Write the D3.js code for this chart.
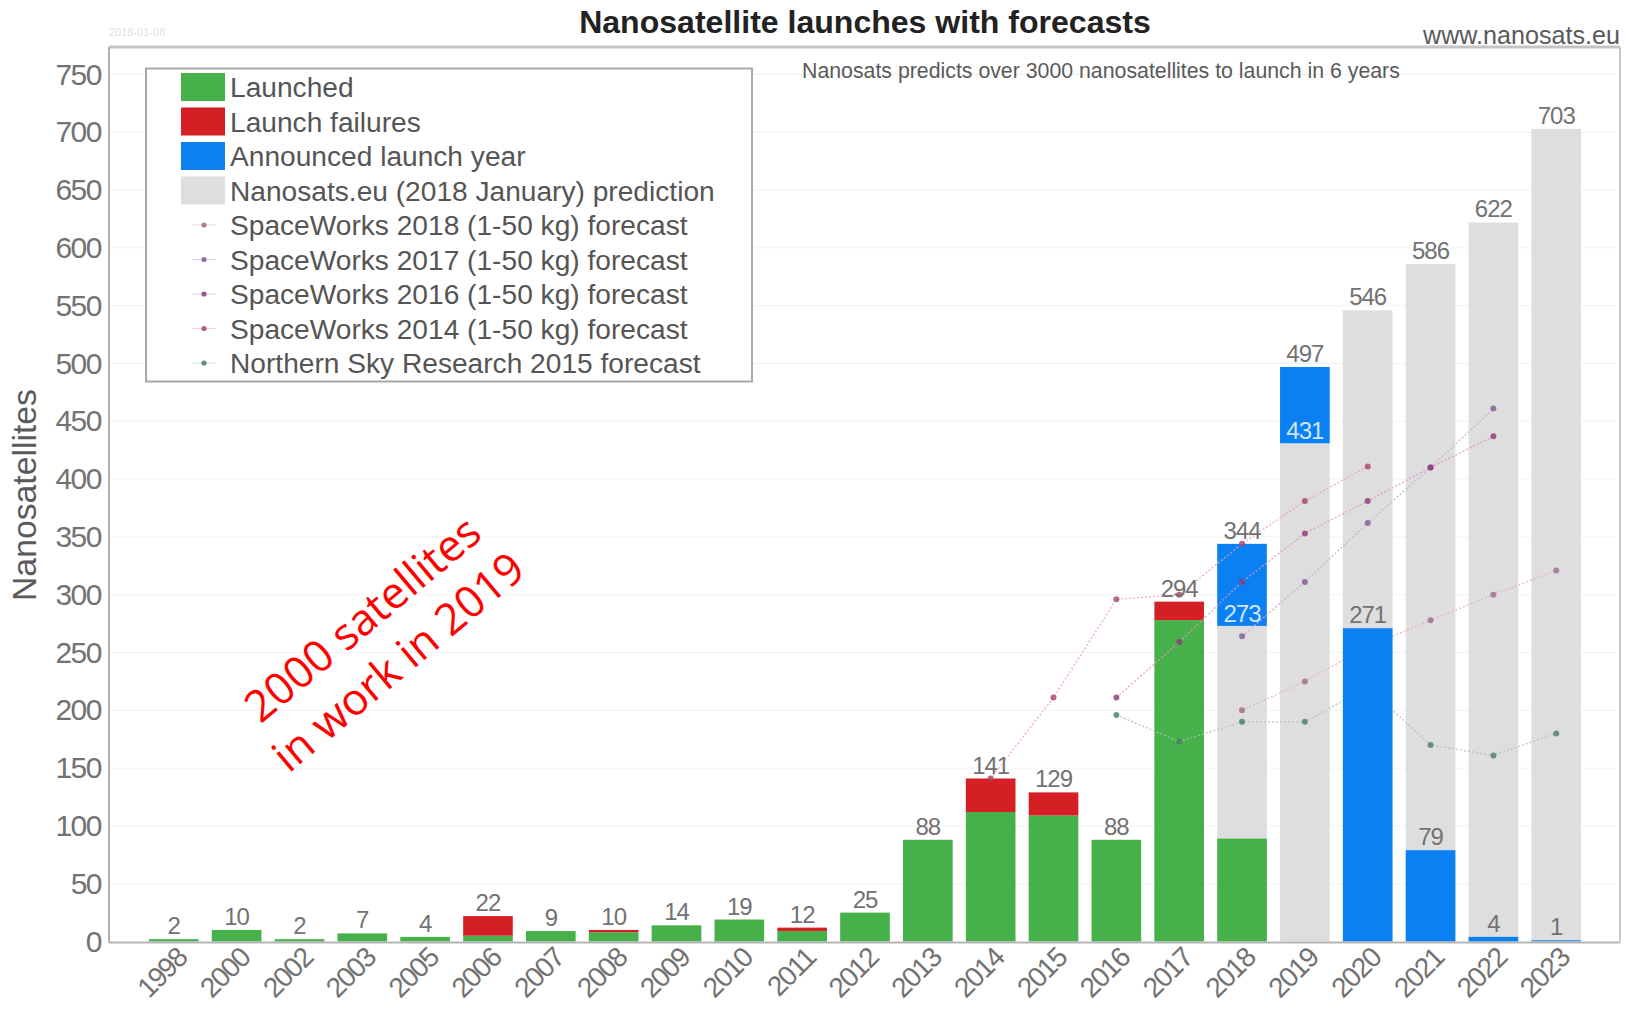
<!DOCTYPE html>
<html><head><meta charset="utf-8">
<script src="https://cdn.jsdelivr.net/npm/d3@7"></script>
<style>body{margin:0;background:#fff} svg{display:block}</style>
</head><body><svg id="c" width="1626" height="1027"></svg>
<script>
const categories = ["1998","2000","2002","2003","2005","2006","2007","2008","2009","2010","2011","2012","2013","2014","2015","2016","2017","2018","2019","2020","2021","2022","2023"];
const launched   = [2,10,2,7,4,5,9,8,14,19,9,25,88,112,109,88,278,89,0,0,0,0,0];
const failures   = [0,0,0,0,0,17,0,2,0,0,3,0,0,29,20,0,16,0,0,0,0,0,0];
const prediction = [null,null,null,null,null,null,null,null,null,null,null,null,null,null,null,null,null,273,431,546,586,622,703];
const announced  = [null,null,null,null,null,null,null,null,null,null,null,null,null,null,null,null,null,344,497,271,79,4,1];
const yTicks = [0,50,100,150,200,250,300,350,400,450,500,550,600,650,700,750];

const sw2018  = [["2018",200],["2019",225],["2020",255],["2021",278],["2022",300],["2023",321]];
const sw2017  = [["2018",264],["2019",311],["2020",362],["2021",410],["2022",461]];
const sw2016  = [["2016",211],["2017",259],["2018",311],["2019",353],["2020",381],["2021",410],["2022",437]];
const sw2014  = [["2014",141],["2015",211],["2016",296],["2017",300],["2018",344],["2019",381],["2020",411]];
const nsr2015 = [["2016",196],["2017",173],["2018",190],["2019",190],["2020",220],["2021",170],["2022",161],["2023",180]];

const legendBars = ["Launched","Launch failures","Announced launch year","Nanosats.eu (2018 January) prediction"];
const legendSeries = ["SpaceWorks 2018 (1-50 kg) forecast","SpaceWorks 2017 (1-50 kg) forecast","SpaceWorks 2016 (1-50 kg) forecast","SpaceWorks 2014 (1-50 kg) forecast","Northern Sky Research 2015 forecast"];

const C = {green:"#46b04a", red:"#d42024", blue:"#0b80f2", gray:"#dedede", text:"#727272"};
const seriesList = [
  {data:sw2018, line:"#eeaac8", dot:"#9a6a8a"},
  {data:sw2017, line:"#d0a6e0", dot:"#7e5a90"},
  {data:sw2016, line:"#e894c4", dot:"#8a3a7a"},
  {data:sw2014, line:"#f4a0b0", dot:"#a84464"},
  {data:nsr2015, line:"#a4c6b6", dot:"#4a7a6a"}
];

const svg = d3.select("#c");
const FONT = "'Liberation Sans', Arial, sans-serif";

function fit(sel, w){
  const t = sel.node().getComputedTextLength();
  const fs = parseFloat(sel.attr("font-size"));
  sel.attr("font-size", fs * w / t);
  return fs * w / t;
}

const pLeft = 109, pRight = 1620, pTop = 47, pBottom = 941.5;
const x = d3.scaleBand().domain(categories).range([110, 1620]).paddingInner(0.21).paddingOuter(0.62);
const y = d3.scaleLinear().domain([0, 750]).range([941.5, 74.5]);
const bw = x.bandwidth();

// gridlines
svg.append("g").selectAll("line").data(yTicks.slice(1)).join("line")
  .attr("x1", pLeft).attr("x2", pRight).attr("y1", d=>y(d)).attr("y2", d=>y(d))
  .attr("stroke", "#f2f2f2").attr("stroke-width", 1);

// frame
svg.append("line").attr("x1", pLeft).attr("x2", pRight).attr("y1", pTop).attr("y2", pTop).attr("stroke", "#c4c4c4").attr("stroke-width", 3);
svg.append("line").attr("x1", pRight).attr("x2", pRight).attr("y1", pTop).attr("y2", pBottom).attr("stroke", "#c8c8c8").attr("stroke-width", 2);
svg.append("line").attr("x1", pLeft).attr("x2", pLeft).attr("y1", pTop).attr("y2", pBottom+1).attr("stroke", "#b0b0b0").attr("stroke-width", 2);

// y axis ticks
const yAxis = d3.axisLeft(y).tickValues(yTicks).tickSize(0).tickPadding(0);
const yg = svg.append("g").attr("transform", `translate(101,0)`).call(yAxis);
yg.select(".domain").remove();
yg.selectAll("text").attr("font-family", FONT).attr("font-size", 30).attr("fill", C.text).attr("letter-spacing", -1.5);

// x axis labels
const xAxis = d3.axisBottom(x).tickSize(0).tickPadding(0);
const xg = svg.append("g").attr("transform", `translate(0,${pBottom})`).call(xAxis);
xg.select(".domain").remove();
xg.selectAll("text").attr("font-family", FONT).attr("font-size", 28).attr("fill", C.text).attr("letter-spacing", -1.5)
  .attr("text-anchor", "end").attr("dy", 0).attr("y", 0)
  .attr("transform", "translate(15,18) rotate(-45)");

const idx = categories.map((c,i)=>i);

// prediction bars (gray)
svg.append("g").selectAll("rect").data(idx.filter(i=>prediction[i]!=null)).join("rect")
  .attr("x", i=>x(categories[i])).attr("width", bw)
  .attr("y", i=>y(prediction[i])).attr("height", i=>y(0)-y(prediction[i]))
  .attr("fill", C.gray);

// launched (green)
svg.append("g").selectAll("rect").data(idx.filter(i=>launched[i]>0)).join("rect")
  .attr("x", i=>x(categories[i])).attr("width", bw)
  .attr("y", i=>y(launched[i])).attr("height", i=>y(0)-y(launched[i]))
  .attr("fill", C.green);

// failures (red) stacked
svg.append("g").selectAll("rect").data(idx.filter(i=>failures[i]>0)).join("rect")
  .attr("x", i=>x(categories[i])).attr("width", bw)
  .attr("y", i=>y(launched[i]+failures[i])).attr("height", i=>y(launched[i])-y(launched[i]+failures[i]))
  .attr("fill", C.red);

// announced (blue): segments above the prediction drawn under the forecast lines,
// bars from zero drawn over them (as in the reference)
const blueBase = i => announced[i] > prediction[i] ? prediction[i] : 0;
const blueIdx = idx.filter(i=>announced[i]!=null);
function drawBlue(list){
  svg.append("g").selectAll("rect").data(list).join("rect")
    .attr("x", i=>x(categories[i])).attr("width", bw)
    .attr("y", i=>y(announced[i])).attr("height", i=>y(blueBase(i))-y(announced[i]))
    .attr("fill", C.blue);
}
drawBlue(blueIdx.filter(i=>blueBase(i)>0));

// forecast lines
const lineGen = d3.line().x(d=>x(d[0])+bw/2).y(d=>y(d[1]));
const fg = svg.append("g");
seriesList.forEach(s=>{
  fg.append("path").attr("d", lineGen(s.data)).attr("fill","none").attr("stroke", s.line)
    .attr("stroke-width", 1.3).attr("stroke-dasharray", "2,2").attr("opacity", 0.9);
  fg.selectAll(null).data(s.data).join("circle")
    .attr("cx", d=>x(d[0])+bw/2).attr("cy", d=>y(d[1])).attr("r", 3)
    .attr("fill", s.dot).attr("opacity", 0.8);
});

drawBlue(blueIdx.filter(i=>blueBase(i)===0));

// bottom axis line
svg.append("line").attr("x1", pLeft).attr("x2", pRight).attr("y1", pBottom+1).attr("y2", pBottom+1).attr("stroke", "#b4b4b4").attr("stroke-width", 2);

// value labels
const lab = svg.append("g").attr("font-family", FONT).attr("font-size", 24).attr("text-anchor","middle").attr("letter-spacing", -1);
idx.forEach(i=>{
  const cx = x(categories[i]) + bw/2;
  if (prediction[i] == null) {
    const t = launched[i] + failures[i];
    lab.append("text").attr("x", cx).attr("y", y(t)-5).attr("fill", C.text).text(t);
  } else {
    const topV = Math.max(prediction[i], announced[i]);
    lab.append("text").attr("x", cx).attr("y", y(topV)-5).attr("fill", C.text).text(topV);
    if (announced[i] > prediction[i]) {
      lab.append("text").attr("x", cx).attr("y", y(prediction[i])-4).attr("fill", "#cfe6ff").text(prediction[i]);
    } else {
      lab.append("text").attr("x", cx).attr("y", y(announced[i])-5).attr("fill", C.text).text(announced[i]);
    }
  }
});

// legend
const lg = svg.append("g");
lg.append("rect").attr("x", 146).attr("y", 68.5).attr("width", 606).attr("height", 313)
  .attr("fill", "#fff").attr("stroke", "#a8a8a8").attr("stroke-width", 2);
const rowY = d => 87 + d*34.5;
const barCols = [C.green, C.red, C.blue, C.gray];
legendBars.forEach((t,k)=>{
  lg.append("rect").attr("x", 181).attr("y", rowY(k)-14).attr("width", 44).attr("height", 28).attr("fill", barCols[k]);
});
legendSeries.forEach((t,k)=>{
  const yy = rowY(k+4);
  lg.append("line").attr("x1", 192).attr("x2", 216).attr("y1", yy).attr("y2", yy).attr("stroke", seriesList[k].line).attr("stroke-width",1).attr("opacity",0.5);
  lg.append("circle").attr("cx", 204).attr("cy", yy).attr("r", 2.6).attr("fill", seriesList[k].dot).attr("opacity",0.85);
});
const legTexts = legendBars.concat(legendSeries);
const lts = legTexts.map((t,k)=> lg.append("text").attr("x", 230).attr("y", rowY(k)).attr("dy","0.36em")
  .attr("font-family", FONT).attr("font-size", 24).attr("fill", "#555").text(t));
const lfs = fit(lts[3], 485);
lts.forEach(s=>s.attr("font-size", lfs));

// title
const title = svg.append("text").attr("x", 865).attr("y", 33).attr("text-anchor","middle")
  .attr("font-family", FONT).attr("font-weight","bold").attr("font-size", 28).attr("fill","#222")
  .text("Nanosatellite launches with forecasts");
fit(title, 572);

const site = svg.append("text").attr("x", 1620).attr("y", 44).attr("text-anchor","end")
  .attr("font-family", FONT).attr("font-size", 20).attr("fill","#5a5a5a").text("www.nanosats.eu");
fit(site, 197);

const sub = svg.append("text").attr("x", 802).attr("y", 78).attr("font-family", FONT).attr("font-size", 16).attr("fill","#5a5a5a")
  .text("Nanosats predicts over 3000 nanosatellites to launch in 6 years");
fit(sub, 598);

svg.append("text").attr("x", 109).attr("y", 36).attr("font-family", FONT).attr("font-size", 11).attr("fill","#e2e2e2").text("2018-01-08");

const yl = svg.append("text").attr("transform","translate(36,495) rotate(-90)").attr("text-anchor","middle")
  .attr("font-family", FONT).attr("font-size", 26).attr("fill","#5a5a5a").text("Nanosatellites");
fit(yl, 212);

// annotation
const ann = svg.append("g").attr("transform","translate(380,640) rotate(-40)");
const a1 = ann.append("text").attr("x",0).attr("y",-12).attr("text-anchor","middle").attr("font-family", "'Open Sans', 'Liberation Sans', sans-serif")
  .attr("font-size", 36).attr("fill","#ff0000").text("2000 satellites");
const a2 = ann.append("text").attr("x",0).attr("y",44).attr("text-anchor","middle").attr("font-family", "'Open Sans', 'Liberation Sans', sans-serif")
  .attr("font-size", 36).attr("fill","#ff0000").text("in work in 2019");
const afs = fit(a2, 312);
a1.attr("font-size", afs);
</script></body></html>
